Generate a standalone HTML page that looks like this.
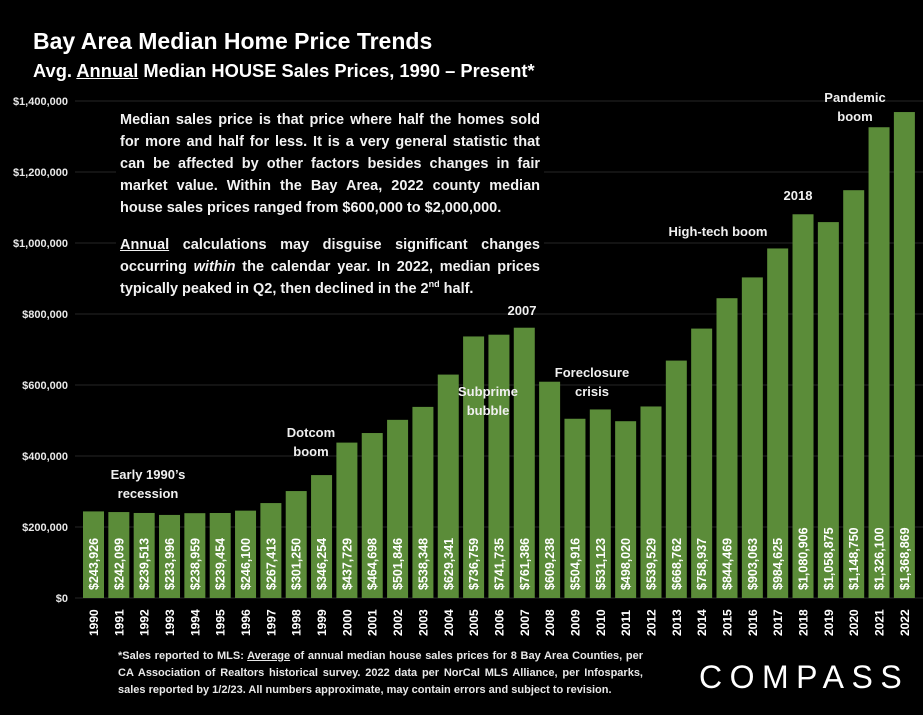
<!DOCTYPE html>
<html><head><meta charset="utf-8"><style>
body{margin:0;background:#000;width:923px;height:715px;overflow:hidden;font-family:"Liberation Sans",sans-serif;color:#fff}
#wrap{position:relative;width:923px;height:715px}
.t{position:absolute;white-space:nowrap;font-weight:bold}
.note{position:absolute;left:116px;width:420px;font-size:14.5px;font-weight:bold;line-height:22px;text-align:justify;text-align-last:left;background:#000;padding:0 4px;color:#f2f2f2}
.note sup{font-size:9px;line-height:0}
.ann{position:absolute;font-size:13px;font-weight:bold;text-align:center;line-height:19px;color:#f0f0f0}
.fn{text-align:justify;text-align-last:justify;white-space:nowrap;height:17px}
</style></head><body><div id="wrap">
<div class="t" style="left:33px;top:28px;font-size:23px">Bay Area Median Home Price Trends</div>
<div class="t" style="left:33px;top:60px;font-size:18.3px">Avg. <u>Annual</u> Median HOUSE Sales Prices, 1990 – Present*</div>
<svg id="chart" width="923" height="715" style="position:absolute;left:0;top:0"></svg>
<div class="note" style="top:109px">Median sales price is that price where half the homes sold for more and half for less. It is a very general statistic that can be affected by other factors besides changes in fair market value. Within the Bay Area, 2022 county median house sales prices ranged from $600,000 to $2,000,000.</div>
<div class="note" style="top:234px"><u>Annual</u> calculations may disguise significant changes occurring <i>within</i> the calendar year. In 2022, median prices typically peaked in Q2, then declined in the 2<sup>nd</sup> half.</div>
<div class="ann" style="left:98px;top:465px;width:100px">Early 1990’s<br>recession</div>
<div class="ann" style="left:271px;top:423px;width:80px">Dotcom<br>boom</div>
<div class="ann" style="left:448px;top:382px;width:80px">Subprime<br>bubble</div>
<div class="ann" style="left:497px;top:301px;width:50px">2007</div>
<div class="ann" style="left:542px;top:363px;width:100px">Foreclosure<br>crisis</div>
<div class="ann" style="left:658px;top:222px;width:120px">High-tech boom</div>
<div class="ann" style="left:773px;top:186px;width:50px">2018</div>
<div class="ann" style="left:810px;top:88px;width:90px">Pandemic<br>boom</div>
<div style="position:absolute;left:118px;top:648px;width:525px;font-size:11px;font-weight:bold;line-height:17px;color:#e8e8e8">
<div class="fn">*Sales reported to MLS: <u>Average</u> of annual median house sales prices for 8 Bay Area Counties, per</div>
<div class="fn">CA Association of Realtors historical survey. 2022 data per NorCal MLS Alliance, per Infosparks,</div>
<div style="white-space:nowrap">sales reported by 1/2/23. All numbers approximate, may contain errors and subject to revision.</div>
</div>
<div style="position:absolute;left:699px;top:659px;font-size:32px;letter-spacing:7.5px;color:#fff">COMPASS</div>
</div>
<script>
const years=["1990","1991","1992","1993","1994","1995","1996","1997","1998","1999","2000","2001","2002","2003","2004","2005","2006","2007","2008","2009","2010","2011","2012","2013","2014","2015","2016","2017","2018","2019","2020","2021","2022"];
const prices=[243926,242099,239513,233996,238959,239454,246100,267413,301250,346254,437729,464698,501846,538348,629341,736759,741735,761386,609238,504916,531123,498020,539529,668762,758937,844469,903063,984625,1080906,1058875,1148750,1326100,1368869];
const ticks=[0,200000,400000,600000,800000,1000000,1200000,1400000];
const NS="http://www.w3.org/2000/svg";
const svg=document.getElementById('chart');
const y0=598,yTop=101,vMax=1400000,x0=83,pitch=25.34,bw=21;
const yS=v=>y0-(v/vMax)*(y0-yTop);
const xS=i=>x0+i*pitch;
const fmt=v=>'$'+v.toLocaleString('en-US');
function mk(t,a){const e=document.createElementNS(NS,t);for(const k in a)e.setAttribute(k,a[k]);svg.appendChild(e);return e;}
ticks.forEach(v=>{
  const g=mk('line',{x1:75,x2:923,y1:yS(v),y2:yS(v),stroke:'#262626','stroke-width':1});
  
  
  const t=mk('text',{x:68,y:yS(v)+4,'text-anchor':'end','font-size':11,'font-weight':'bold',fill:'#e8e8e8','font-family':'Liberation Sans, sans-serif'});
  t.textContent=fmt(v);
  
  
});
prices.forEach((v,i)=>{
  const x=xS(i);
  const r=mk('rect',{x:x,y:yS(v),width:bw,height:y0-yS(v),fill:'#5b8c39'});
  
  
  const cx=x+bw/2+4.5;
  const vl=mk('text',{x:cx,y:590,transform:`rotate(-90 ${cx} 590)`,'font-size':12.5,'font-weight':'bold',fill:'#fff','font-family':'Liberation Sans, sans-serif'});
  vl.textContent=fmt(v);
  
  
  const yl=mk('text',{x:cx,y:636,transform:`rotate(-90 ${cx} 636)`,'font-size':12,'font-weight':'bold',fill:'#fff','font-family':'Liberation Sans, sans-serif'});
  yl.textContent=years[i];
  
  
});
</script>
</body></html>
